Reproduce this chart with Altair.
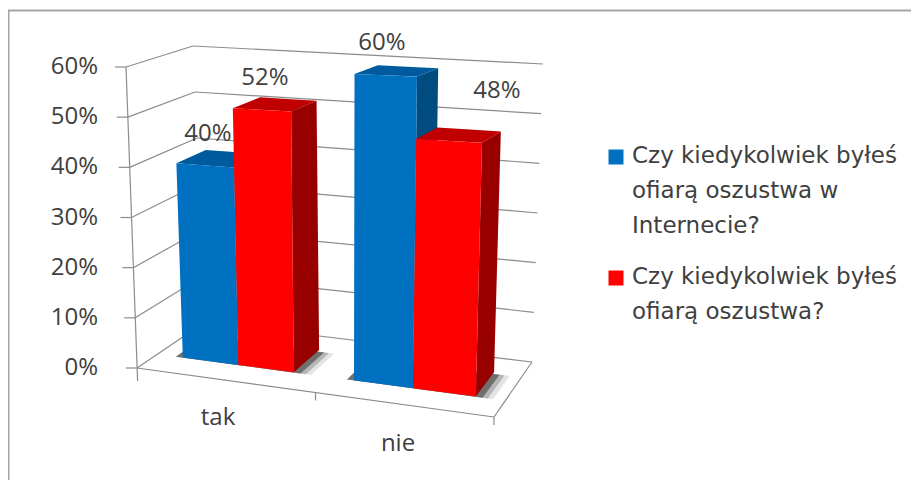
import altair as alt
import pandas as pd

categories = ["tak", "nie"]
series_1 = [40, 60]
series_2 = [52, 48]
ticks = [0, 10, 20, 30, 40, 50, 60]
tick_labels = ["0%", "10%", "20%", "30%", "40%", "50%", "60%"]
legend_lines = [["Czy kiedykolwiek byłeś", "ofiarą oszustwa w", "Internecie?"], ["Czy kiedykolwiek byłeś", "ofiarą oszustwa?"]]

W, H = 903, 472
VMAX = 60
# corners of the 3-D box, in page pixels: (front/back, left/right, bottom/top)
FLB, FLT = (137, 368), (126, 67)
BLB, BLT = (205, 322), (193, 46)
FRB, FRT = (494, 417), (503, 81)
BRB, BRT = (532, 362), (543, 64)


def proj(u, w, v):
    v = v / VMAX
    res = []
    for i in (0, 1):
        fb = FLB[i] + (FRB[i] - FLB[i]) * u
        ft = FLT[i] + (FRT[i] - FLT[i]) * u
        bb = BLB[i] + (BRB[i] - BLB[i]) * u
        bt = BLT[i] + (BRT[i] - BLT[i]) * u
        b = fb + (bb - fb) * w
        t = ft + (bt - ft) * w
        res.append(b + (t - b) * v)
    return tuple(res)


def hull_rows(pts):
    xs = sorted({p[0] for p in pts})
    n = len(pts)
    rows = []
    for x in xs:
        ys = []
        for i in range(n):
            a, b = pts[i], pts[(i + 1) % n]
            lo, hi = min(a[0], b[0]), max(a[0], b[0])
            if lo <= x <= hi:
                if a[0] == b[0]:
                    ys += [a[1], b[1]]
                else:
                    ys.append(a[1] + (b[1] - a[1]) * (x - a[0]) / (b[0] - a[0]))
        rows.append(dict(x=x, ya=min(ys), yb=max(ys)))
    return pd.DataFrame(rows)


X = lambda f: alt.X(f, type="quantitative", scale=alt.Scale(domain=[8, W + 8], range=[0, W], zero=False, nice=False), axis=None)
Y = lambda f: alt.Y(f, type="quantitative", scale=alt.Scale(domain=[8, H + 8], range=[0, H], zero=False, nice=False), axis=None)


def face(pts, fill, opacity=1.0):
    return alt.Chart(hull_rows(pts)).mark_area(color=fill, opacity=opacity, interpolate="linear").encode(
        x=X("x"), y=Y("ya"), y2="yb:Q")


W_FRONT, W_BACK = 0.30, 0.75
BAR_SCALE = 0.985
BAR_EDGES = [(0.073, 0.2325, 0.392), (0.565, 0.7345, 0.915)]
COLORS = [("#0070C0", "#005A9E", "#004C80"), ("#FF0000", "#C00000", "#980000")]
values = [series_1, series_2]

layers = []
for c in range(2):
    start, _, end = BAR_EDGES[c]
    for grow, op in ((0.05, 0.14), (0.035, 0.28), (0.02, 0.6)):
        pts = [proj(start - 0.02, W_FRONT, 0), proj(end + grow, W_FRONT - 0.005, 0),
               proj(end + grow, W_BACK - 0.03, 0), proj(start - 0.02, W_BACK - 0.03, 0)]
        layers.append(face(pts, "#404040", op))

for c, s in [(0, 0), (0, 1), (1, 0), (1, 1)]:
    u0, u1 = BAR_EDGES[c][s], BAR_EDGES[c][s + 1]
    v = values[s][c] * BAR_SCALE
    front, top, side = COLORS[s]
    layers.append(face([proj(u1, W_FRONT, 0), proj(u1, W_BACK, 0), proj(u1, W_BACK, v), proj(u1, W_FRONT, v)], side))
    layers.append(face([proj(u0, W_FRONT, v), proj(u1, W_FRONT, v), proj(u1, W_BACK, v), proj(u0, W_BACK, v)], top))
    layers.append(face([proj(u0, W_FRONT, 0), proj(u1, W_FRONT, 0), proj(u1, W_FRONT, v), proj(u0, W_FRONT, v)], front))

segs = []
def seg(a, b):
    segs.append(dict(x=a[0], y=a[1], xe=b[0], ye=b[1]))

for t in ticks:
    seg(proj(0, 0, t), proj(0, 1, t))
    seg(proj(0, 1, t), proj(1, 1, t))
    a = proj(0, 0, t)
    seg((a[0] - 11, a[1]), a)
seg(FLT, (FLB[0] + 0.6, FLB[1] + 13))
seg(FLB, FRB)
seg(FRB, BRB)
for u in (0.5, 1.0):
    a = proj(u, 0, 0)
    seg(a, (a[0], a[1] + 8))
lines = pd.DataFrame(segs)

border = pd.DataFrame([dict(x=8, y=10.5, xe=W + 8, ye=10.5), dict(x=8.5, y=10.5, xe=8.5, ye=H + 8)])
border_l = alt.Chart(border).mark_rule(color="#A6A6A6", strokeWidth=2).encode(x=X("x"), y=Y("y"), x2="xe:Q", y2="ye:Q")
grid = alt.Chart(lines).mark_rule(color="#8C8C8C", strokeWidth=1.2).encode(x=X("x"), y=Y("y"), x2="xe:Q", y2="ye:Q")

TXT = "#404040"
def text(df, align, font="Open Sans", fs=24):
    return alt.Chart(df).mark_text(align=align, baseline="middle", font=font, fontSize=fs, color=TXT).encode(x=X("x"), y=Y("y"), text="label:N")

tick_txt = text(pd.DataFrame([dict(x=98, y=proj(0, 0, t)[1], label=l) for t, l in zip(ticks, tick_labels)]), "right")
cat_txt = text(pd.DataFrame([dict(x=x, y=y, label=c) for (x, y), c in zip([(218, 418), (398, 444)], categories)]), "center")
lab_pos = [(208, 134), (265, 78), (382, 43), (497, 91)]
lab_vals = [series_1[0], series_2[0], series_1[1], series_2[1]]
lab_txt = text(pd.DataFrame([dict(x=p[0], y=p[1], label=f"{v}%") for p, v in zip(lab_pos, lab_vals)]), "center")

leg_rows, sq_rows = [], []
for (y0, col), ls in zip([(156, "#0070C0"), (277, "#FF0000")], legend_lines):
    sq_rows.append(dict(x=616, y=y0 + 1, fill=col))
    for i, l in enumerate(ls):
        leg_rows.append(dict(x=632, y=y0 + i * 35, label=l))
sq_mark = alt.Chart(pd.DataFrame(sq_rows)).mark_square(size=225, opacity=1).encode(x=X("x"), y=Y("y"), color=alt.Color("fill:N", scale=None))
leg_txt = text(pd.DataFrame(leg_rows), "left", font="DejaVu Sans", fs=23)

chart = alt.layer(border_l, grid, *layers, tick_txt, cat_txt, lab_txt, sq_mark, leg_txt).properties(
    width=W, height=H, padding=0, autosize=alt.AutoSizeParams(type="none")
).configure_view(stroke=None)

chart.save("out.html", embed_options={"renderer": "svg", "actions": False})
